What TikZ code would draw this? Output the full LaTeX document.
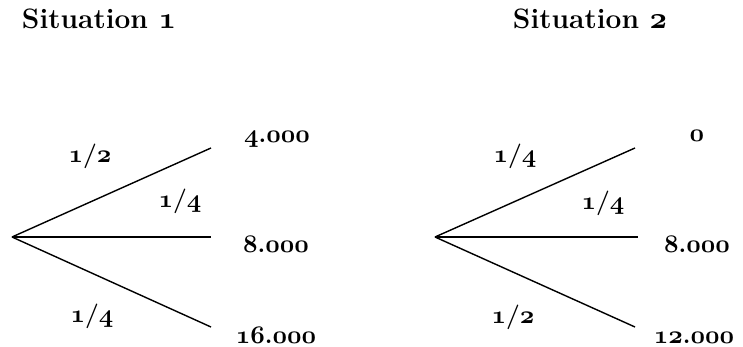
\documentclass[tikz,border=0pt]{standalone}

\newcommand{\osn}[1]{{\usefont{OML}{cmm}{b}{it}#1}}

\begin{document}
\begin{tikzpicture}[
  x=0.02cm, y=-0.02cm,
  branch/.style={line width=0.8pt},
  heading/.style={
    anchor=base,
    inner sep=0pt,
    font=\fontsize{16}{19}\selectfont\bfseries
  },
  label/.style={
    anchor=base,
    inner sep=0pt,
    font=\fontsize{14}{17}\selectfont\bfseries
  }
]
  \useasboundingbox (0,0) rectangle (743,347);

  % situation 1
  \node[heading] (title1) at (99,29) {Situation \osn{1}};
  \coordinate (root1) at (12,237);
  \coordinate (up1) at (211,148);
  \coordinate (mid1) at (211,237);
  \coordinate (low1) at (211,327);
  \draw[branch] (root1) -- (up1);
  \draw[branch] (root1) -- (mid1);
  \draw[branch] (root1) -- (low1);
  \node[label] (pup1) at (90,163) {\osn{1}/\osn{2}};
  \node[label] (pmid1) at (180,208) {\osn{1}/\osn{4}};
  \node[label] (plow1) at (92,322) {\osn{1}/\osn{4}};
  \node[label] (vup1) at (277,143) {\osn{4}.\osn{000}};
  \node[label] (vmid1) at (276,253) {\osn{8}.\osn{000}};
  \node[label] (vlow1) at (276,343) {\osn{16}.\osn{000}};

  % situation 2
  \node[heading] (title2) at (590,29) {Situation \osn{2}};
  \coordinate (root2) at (435,237);
  \coordinate (up2) at (635,148);
  \coordinate (mid2) at (638,237);
  \coordinate (low2) at (635,327);
  \draw[branch] (root2) -- (up2);
  \draw[branch] (root2) -- (mid2);
  \draw[branch] (root2) -- (low2);
  \node[label] (pup2) at (515,163) {\osn{1}/\osn{4}};
  \node[label] (pmid2) at (603,210) {\osn{1}/\osn{4}};
  \node[label] (plow2) at (513,323) {\osn{1}/\osn{2}};
  \node[label] (vup2) at (697,142) {\osn{0}};
  \node[label] (vmid2) at (697,253) {\osn{8}.\osn{000}};
  \node[label] (vlow2) at (694,343) {\osn{12}.\osn{000}};
\end{tikzpicture}
\end{document}
